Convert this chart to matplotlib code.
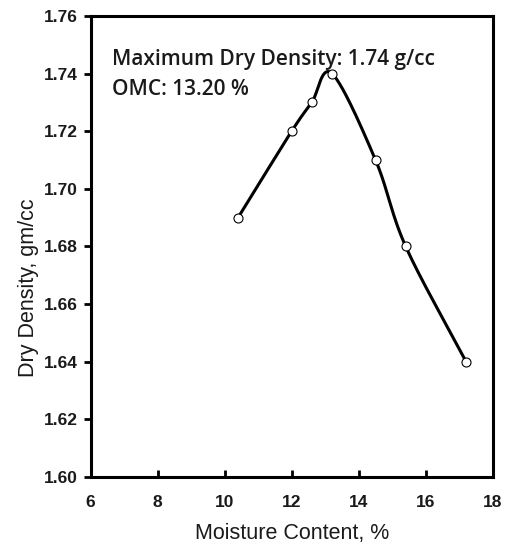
import numpy as np
import matplotlib
matplotlib.use("Agg")
import matplotlib.pyplot as plt

# data
moisture = [10.4, 12.0, 12.6, 13.2, 14.5, 15.4, 17.2]
density = [1.69, 1.72, 1.73, 1.74, 1.71, 1.68, 1.64]
x_ticks = [6, 8, 10, 12, 14, 16, 18]
y_ticks = [1.60, 1.62, 1.64, 1.66, 1.68, 1.70, 1.72, 1.74, 1.76]
note_lines = ["Maximum Dry Density: 1.74 g/cc", "OMC: 13.20 %"]


def smooth(xs, ys, n=30):
    # catmull-rom style smoothing, like the spreadsheet "smoothed line"
    xs = np.asarray(xs, float)
    ys = np.asarray(ys, float)
    px = np.concatenate([[2 * xs[0] - xs[1]], xs, [2 * xs[-1] - xs[-2]]])
    py = np.concatenate([[2 * ys[0] - ys[1]], ys, [2 * ys[-1] - ys[-2]]])
    ox, oy = [], []
    t = np.linspace(0, 1, n)
    for i in range(1, len(px) - 2):
        for p, out in ((px, ox), (py, oy)):
            p0, p1, p2, p3 = p[i - 1], p[i], p[i + 1], p[i + 2]
            out.extend(0.5 * ((2 * p1) + (-p0 + p2) * t
                              + (2 * p0 - 5 * p1 + 4 * p2 - p3) * t ** 2
                              + (-p0 + 3 * p1 - 3 * p2 + p3) * t ** 3))
    return ox, oy


fig = plt.figure(figsize=(5.06, 5.47), dpi=100)
ax = fig.add_axes([0.179, 0.128, 0.795, 0.843])

sx, sy = smooth(moisture, density)
ax.plot(sx, sy, color="black", lw=2.2, zorder=2)
ax.plot(moisture, density, ls="none", marker="o", ms=6.5, mfc="white",
        mec="black", mew=0.8, zorder=3)

ax.set_xlim(6, 18)
ax.set_ylim(1.60, 1.76)
ax.set_xticks(x_ticks)
ax.set_yticks(y_ticks)
ax.set_xticklabels([str(v) for v in x_ticks], fontsize=12.5, fontweight="bold",
                   family="Liberation Sans", color="#1a1a1a")
ax.set_yticklabels(["%.2f" % v for v in y_ticks], fontsize=12.5, fontweight="bold",
                   family="Liberation Sans", color="#1a1a1a")
ax.tick_params(axis="x", direction="in", length=5, width=2, pad=13)
ax.tick_params(axis="y", direction="out", length=5, width=2, pad=4)
for s in ax.spines.values():
    s.set_linewidth(2.2)

ax.set_xlabel("Moisture Content, %", fontsize=15.5, family="Liberation Sans",
              color="#1a1a1a", labelpad=9)
ax.set_ylabel("Dry Density, gm/cc", fontsize=15.5, family="Liberation Sans",
              color="#1a1a1a")
# the y title sits below the middle of the axis in the original
ax.yaxis.set_label_coords(-0.128, 0.41)

ax.text(0.053, 0.905, note_lines[0], transform=ax.transAxes, fontsize=15,
        family="Open Sans", fontweight="semibold", color="#1a1a1a", va="center")
ax.text(0.053, 0.840, note_lines[1], transform=ax.transAxes, fontsize=15,
        family="Open Sans", fontweight="semibold", color="#1a1a1a", va="center")

fig.savefig("out.png", dpi=100)
